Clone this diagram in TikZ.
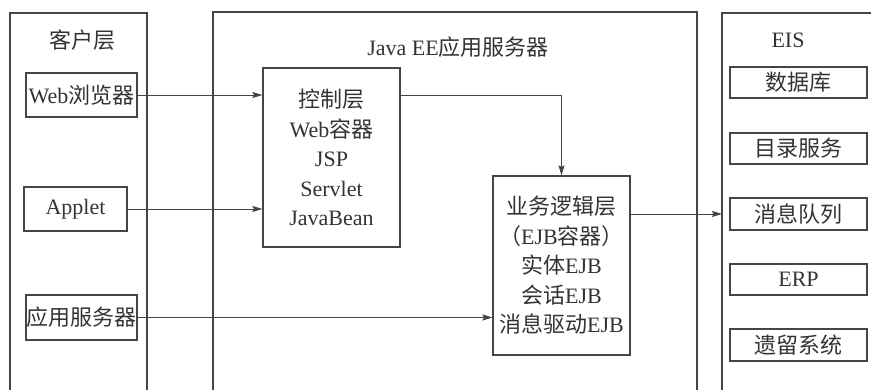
\documentclass[tikz,border=0pt]{standalone}
\usepackage{fontspec}
\setmainfont{Liberation Serif}
\newfontfamily\cjk{Noto Sans CJK SC}
\newcommand\zh[1]{{\cjk #1}}
\usetikzlibrary{arrows.meta,calc}
\definecolor{ink}{HTML}{333333}
\definecolor{linec}{HTML}{454545}
\tikzset{
  panel/.style={draw=linec, line width=1.2pt},
  box/.style={draw=linec, line width=1.2pt, inner sep=0pt, align=center,
    text=ink, font=\fontsize{22pt}{29.5pt}\selectfont},
  title/.style={inner sep=0pt, text=ink, font=\fontsize{22pt}{26pt}\selectfont},
  arr/.style={draw=linec, line width=0.9pt, -{Stealth[length=10pt,width=6pt,inset=1.5pt]}},
}
\begin{document}
\begin{tikzpicture}[x=1pt,y=-1pt]
\useasboundingbox (0,0) rectangle (871,390);

% three tiers, open at the bottom
\draw[panel] (10,392) -- (10,13) -- (147,13) -- (147,392);
\draw[panel] (213,392) -- (213,12) -- (697,12) -- (697,392);
\draw[panel] (722,392) -- (722,13) -- (873,13);
\coordinate (eisL) at (722,13);

% tier titles
\node[title] (tclient) at (82,40) {\zh{客户层}};
\node[title] (tserver) at (458,47) {Java EE\zh{应用服务器}};
\node[title] (teis) at (788,40) {EIS};

% client tier
\node[box, minimum width=111pt, minimum height=44pt] (web) at (81.5,95) {Web\zh{浏览器}};
\node[box, minimum width=103pt, minimum height=44pt] (applet) at (75.5,209) {Applet};
\node[box, minimum width=111pt, minimum height=45pt] (appsrv) at (81.5,317.5) {\zh{应用服务器}};

% server tier
\node[box, minimum width=137pt, minimum height=179pt] (ctrl) at (331.5,157.5)
  {\zh{控制层}\\Web\zh{容器}\\JSP\\Servlet\\JavaBean};
\node[box, minimum width=137pt, minimum height=179pt] (biz) at (561.5,265.5)
  {\zh{业务逻辑层}\\\zh{（}EJB\zh{容器）}\\\zh{实体}EJB\\\zh{会话}EJB\\\zh{消息驱动}EJB};

% EIS tier
\node[box, minimum width=137pt, minimum height=31pt] (db) at (798.5,82.5) {\zh{数据库}};
\node[box, minimum width=137pt, minimum height=31pt] (dir) at (798.5,148.5) {\zh{目录服务}};
\node[box, minimum width=137pt, minimum height=32pt] (mq) at (798.5,214) {\zh{消息队列}};
\node[box, minimum width=137pt, minimum height=31pt] (erp) at (798.5,279.5) {ERP};
\node[box, minimum width=137pt, minimum height=32pt] (legacy) at (798.5,345) {\zh{遗留系统}};

% connectors
\draw[arr] (web.east) -- (web.east -| ctrl.west);
\draw[arr] (applet.east) -- (applet.east -| ctrl.west);
\draw[arr] (appsrv.east) -- (appsrv.east -| biz.west);
\draw[arr] (web.east -| ctrl.east) -| (biz.north);
\draw[arr] (mq.west -| biz.east) -- (mq.west -| eisL);
\end{tikzpicture}
\end{document}
